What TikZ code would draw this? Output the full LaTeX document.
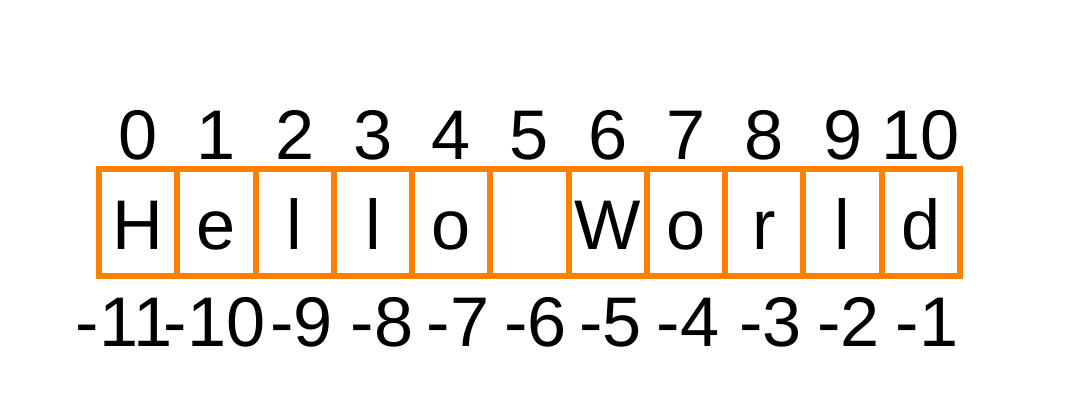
\documentclass[tikz,border=0pt]{standalone}
\usepackage{fontspec}
\setmainfont{Liberation Sans}
\usetikzlibrary{calc}
\definecolor{cellorange}{RGB}{255,128,0}
\tikzset{
  cell/.style={draw=cellorange, line width=0.06cm, minimum width=0.7827cm,
               minimum height=1.07cm, inner sep=0pt, outer sep=0pt,
               text height=0.55cm, text depth=0pt,
               font=\fontsize{20}{24}\selectfont},
  idx/.style={anchor=base, inner sep=0pt, font=\fontsize{20}{24}\selectfont},
}

\begin{document}
\begin{tikzpicture}
    \useasboundingbox (0,0) rectangle (10.69,4.14);
    % string cells with positive and negative indices
    \foreach \i/\ch/\n/\dx in {0/H/-11/-0.14, 1/e/-10/-0.02, 2/l/-9/0.07,
                               3/l/-8/0.09, 4/o/-7/0.07, 5/{}/-6/0.06,
                               6/W/-5/0.03, 7/o/-4/0.02, 8/r/-3/0.06,
                               9/l/-2/0.06, 10/d/-1/0.06} {
        \node[cell] (c\i) at ({0.99+(\i+0.5)*0.7827}, 1.915) {\ch};
        \node[idx] (pos\i) at ($(c\i)+(0,0.632)$) {\i};
        \node[idx] (neg\i) at ($(c\i)+(\dx,-1.242)$) {\n};
    }
\end{tikzpicture}
\end{document}
